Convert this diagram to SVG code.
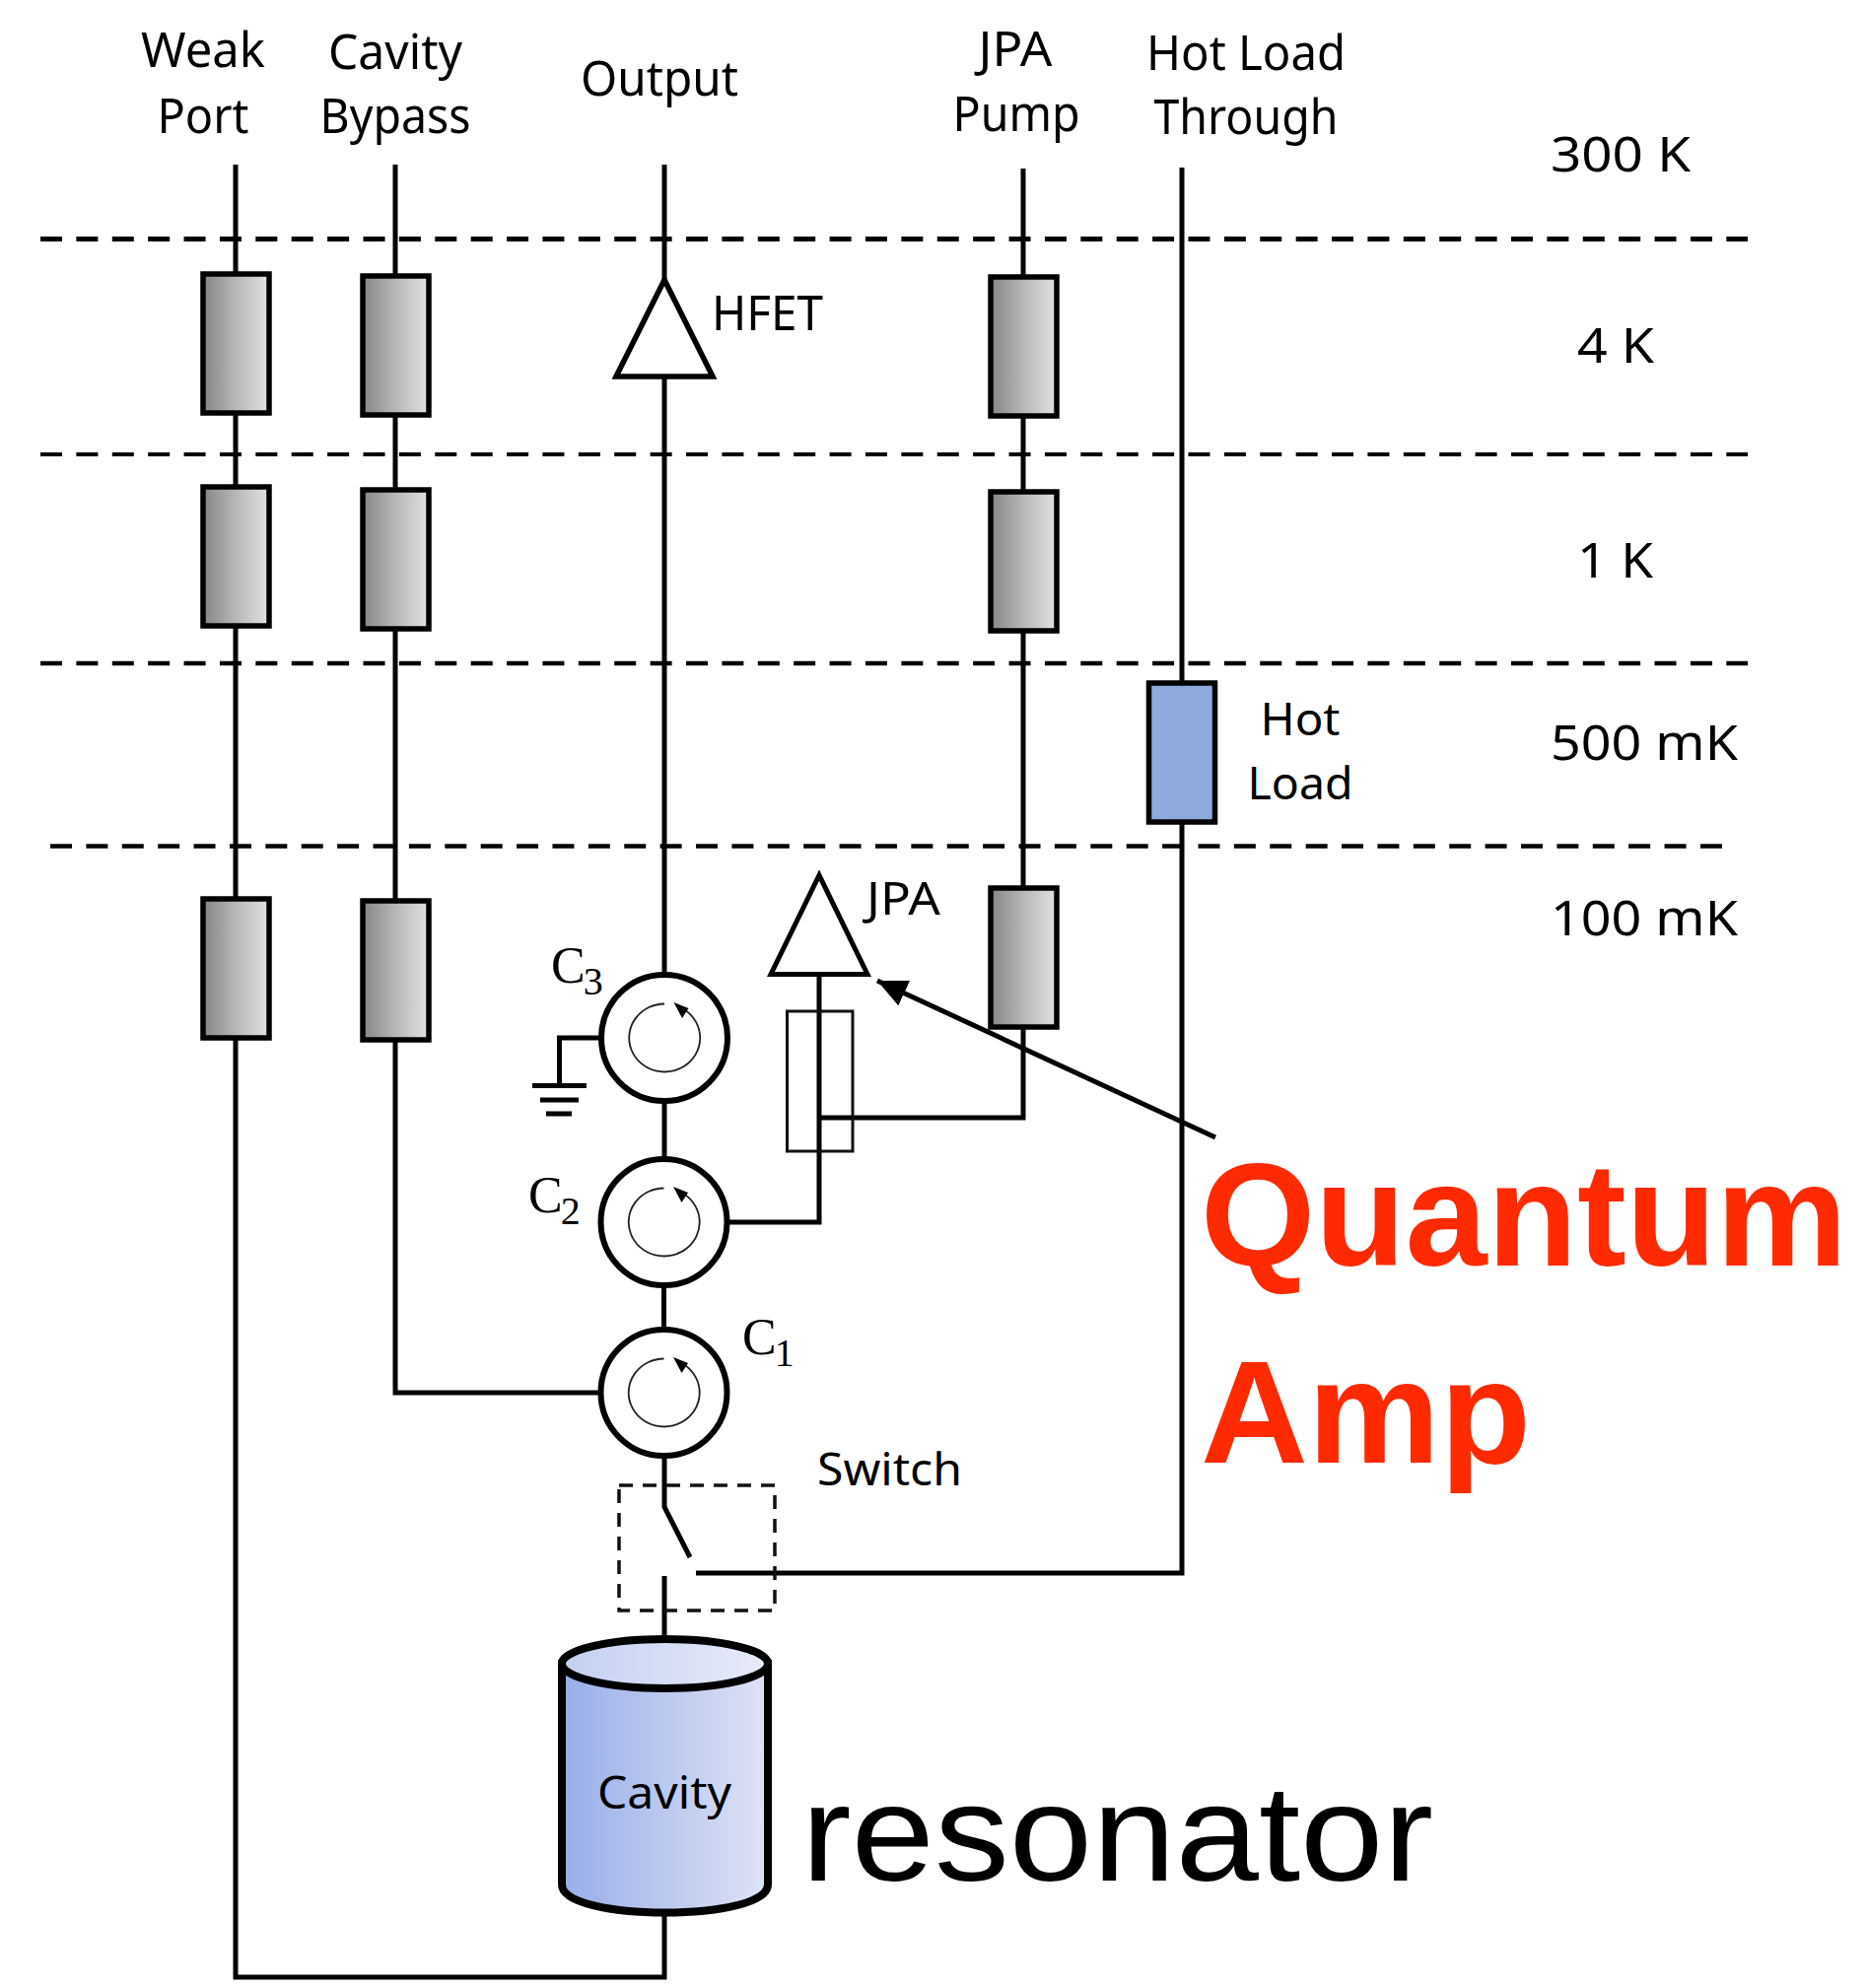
<svg xmlns="http://www.w3.org/2000/svg" width="1894" height="2017" viewBox="0 0 1894 2017">
<defs>
<linearGradient id="gr"><stop offset="0" stop-color="#858585"/><stop offset="0.5" stop-color="#b8b8b8"/><stop offset="1" stop-color="#e2e2e2"/></linearGradient>
<linearGradient id="cb"><stop offset="0" stop-color="#98aee8"/><stop offset="1" stop-color="#dfe3f6"/></linearGradient>
<linearGradient id="ct"><stop offset="0" stop-color="#c4d0f1"/><stop offset="1" stop-color="#e8ecfa"/></linearGradient>
<marker id="ah" markerUnits="userSpaceOnUse" markerWidth="34" markerHeight="34" refX="30" refY="14" orient="auto"><path d="M30 14 L0 0 L0 28 Z" fill="#000"/></marker>
<g id="circ">
<circle r="64" fill="#fff" stroke="#000" stroke-width="6"/>
<path d="M0 -34.500 A36 34.500 0 1 0 18 -30" fill="none" stroke="#222" stroke-width="1.8"/>
<path d="M9.500 -36 L24.500 -30 L18 -20 Z" fill="#000"/>
</g>
</defs>
<style>
.l{fill:none;stroke:#000;stroke-width:5}
.d{fill:none;stroke:#000;stroke-dasharray:22 14.39}
.r{fill:url(#gr);stroke:#000;stroke-width:5.500}
.t{font-family:"Noto Sans","Open Sans",sans-serif;font-size:50px;fill:#000}
.m{text-anchor:middle}
.s{font-size:46px}
.c{font-family:"Liberation Serif",serif;font-size:52px;fill:#000}
.b{font-family:"Liberation Sans",Arial,sans-serif;font-weight:700;font-size:148px;fill:#ff2a00}
</style>
<g id="temperature-stages">
<line class="d" x1="41" y1="242.500" x2="1773" y2="242.500" stroke-width="5"/>
<line class="d" x1="41" y1="461" x2="1773" y2="461" stroke-width="4"/>
<line class="d" x1="41" y1="673" x2="1773" y2="673" stroke-width="4.500"/>
<line class="d" x1="51" y1="858.500" x2="1747" y2="858.500" stroke-width="4.500"/>
<text class="t" x="1573" y="174" textLength="142" lengthAdjust="spacingAndGlyphs">300 K</text>
<text class="t" x="1600" y="368" textLength="78" lengthAdjust="spacingAndGlyphs">4 K</text>
<text class="t" x="1600" y="586" textLength="77" lengthAdjust="spacingAndGlyphs">1 K</text>
<text class="t" x="1573" y="771" textLength="190" lengthAdjust="spacingAndGlyphs">500 mK</text>
<text class="t" x="1573" y="949" textLength="190" lengthAdjust="spacingAndGlyphs">100 mK</text>
</g>
<g id="connectors">
<path class="l" d="M239 167V2006H674V1940"/>
<path class="l" d="M401 167V1413H612"/>
<path class="l" d="M674 167V990"/>
<path class="l" d="M674 1115V1178M673.500 1303V1350M674 1477V1529L700 1580M674 1599V1664"/>
<path class="l" d="M1038 171V1134H831"/>
<path class="l" d="M1199 170V1596H706"/>
<path class="l" d="M610 1053H567.500V1101"/>
<path class="l" d="M738 1240H831V989"/>
<line class="l" x1="1233" y1="1154" x2="890" y2="995" marker-end="url(#ah)"/>
</g>
<g id="weak-att"><rect class="r" x="206" y="278" width="67" height="141"/><rect class="r" x="206" y="494" width="67" height="141"/><rect class="r" x="206" y="912" width="67" height="141"/></g>
<g id="bypass-att"><rect class="r" x="368" y="280" width="67" height="141"/><rect class="r" x="368" y="497" width="67" height="141"/><rect class="r" x="368" y="914" width="67" height="141"/></g>
<g id="pump-att"><rect class="r" x="1005" y="281" width="67" height="141"/><rect class="r" x="1005" y="499" width="67" height="141"/><rect class="r" x="1005" y="901" width="67" height="141"/></g>
<g id="hot-load"><rect x="1165.500" y="693" width="67" height="141" fill="#8faadc" stroke="#000" stroke-width="5.500"/>
<text class="t s m" x="1319" y="746" textLength="81" lengthAdjust="spacingAndGlyphs">Hot</text>
<text class="t s m" x="1319" y="811" textLength="107" lengthAdjust="spacingAndGlyphs">Load</text></g>
<g id="hfet"><path d="M674 284L625 382H723Z" fill="#fff" stroke="#000" stroke-width="5.500"/>
<text class="t" x="722" y="335" textLength="113" lengthAdjust="spacingAndGlyphs">HFET</text></g>
<g id="jpa"><path d="M831 888L782 988.500H880Z" fill="#fff" stroke="#000" stroke-width="5"/>
<text class="t s" x="879" y="928" textLength="75" lengthAdjust="spacingAndGlyphs">JPA</text></g>
<g id="pump-coupler"><rect x="798.500" y="1026" width="66.500" height="142" fill="none" stroke="#111" stroke-width="3"/></g>
<g id="c3"><use href="#circ" x="674" y="1053"/><text class="c" x="559" y="997">C<tspan font-size="40" dy="12" dx="-2">3</tspan></text></g>
<g id="c2"><use href="#circ" x="673.500" y="1240"/><text class="c" x="536" y="1230">C<tspan font-size="40" dy="12" dx="-2">2</tspan></text></g>
<g id="c1"><use href="#circ" x="673.500" y="1413"/><text class="c" x="753" y="1374">C<tspan font-size="40" dy="12" dx="-2">1</tspan></text></g>
<g id="ground"><path class="l" d="M540 1101.500H595M548 1116H587M554 1130H580"/></g>
<g id="switch"><rect x="628" y="1507" width="158" height="127" fill="none" stroke="#111" stroke-width="3.500" stroke-dasharray="14 10"/>
<text class="t s" x="829" y="1507" textLength="147" lengthAdjust="spacingAndGlyphs">Switch</text></g>
<g id="cavity">
<path d="M570 1688V1912C570 1950 779 1950 779 1912V1688Z" fill="url(#cb)" stroke="#000" stroke-width="8"/>
<ellipse cx="674.500" cy="1688" rx="104.500" ry="25" fill="url(#ct)" stroke="#000" stroke-width="8"/>
<text class="t s m" x="674" y="1835" textLength="136" lengthAdjust="spacingAndGlyphs">Cavity</text>
</g>
<g id="port-labels">
<text class="t m" x="206" y="68" textLength="126" lengthAdjust="spacingAndGlyphs">Weak</text>
<text class="t m" x="206" y="135" textLength="93" lengthAdjust="spacingAndGlyphs">Port</text>
<text class="t m" x="401" y="70" textLength="136" lengthAdjust="spacingAndGlyphs">Cavity</text>
<text class="t m" x="401" y="135" textLength="153" lengthAdjust="spacingAndGlyphs">Bypass</text>
<text class="t m" x="669" y="97" textLength="160" lengthAdjust="spacingAndGlyphs">Output</text>
<text class="t m" x="1030" y="67" textLength="75" lengthAdjust="spacingAndGlyphs">JPA</text>
<text class="t m" x="1031" y="133" textLength="129" lengthAdjust="spacingAndGlyphs">Pump</text>
<text class="t m" x="1264" y="71" textLength="202" lengthAdjust="spacingAndGlyphs">Hot Load</text>
<text class="t m" x="1264" y="136" textLength="187" lengthAdjust="spacingAndGlyphs">Through</text>
</g>
<g id="annotations">
<text class="b" x="1218" y="1284" textLength="656" lengthAdjust="spacingAndGlyphs">Quantum</text>
<text class="b" x="1218" y="1484" textLength="335" lengthAdjust="spacingAndGlyphs">Amp</text>
<text x="813" y="1908" font-family="'Liberation Sans',Arial,sans-serif" font-size="140" textLength="641" lengthAdjust="spacingAndGlyphs" fill="#000">resonator</text>
</g>
</svg>
